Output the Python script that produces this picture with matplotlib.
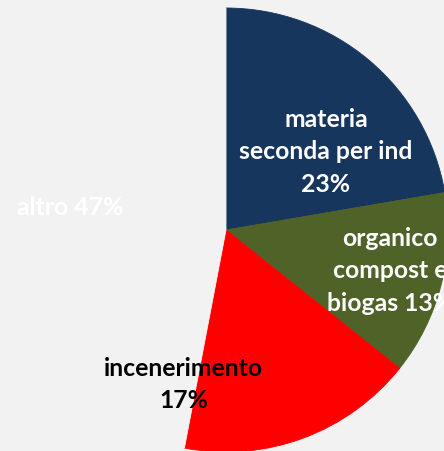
import matplotlib
matplotlib.use('Agg')
import matplotlib.pyplot as plt

# Dati (quota per destinazione)
categorie = ['materia\nseconda per ind\n23%', 'organico\ncompost e\nbiogas 13%',
             'incenerimento\n17%', 'altro 47%']
valori = [22.3, 13.4, 17.3, 47.0]
colori = ['#17365d', '#4f6228', '#ff0000', '#f2f2f2']
colori_testo = ['white', 'white', 'black', 'white']
# posizione etichette (coordinate pie, raggio = 1)
pos_etichette = [(0.45, 0.356), (0.74, -0.18), (-0.19, -0.69), (-0.70, 0.104)]

BG = '#f2f2f2'

fig = plt.figure(figsize=(4.44, 4.52), dpi=100, facecolor=BG)
ax = fig.add_axes([0, 0, 1, 1])
ax.set_facecolor(BG)

wedges, _ = ax.pie(valori, colors=colori, startangle=90, counterclock=False,
                   radius=1.0)
for w, c in zip(wedges, colori):
    w.set_edgecolor(c)
    w.set_linewidth(0.6)

for testo, (x, y), c in zip(categorie, pos_etichette, colori_testo):
    ax.text(x, y, testo, ha='center', va='center', color=c,
            fontsize=17.8, fontweight='bold', family='Lato',
            linespacing=1.48)

# centro a (226, 231) px, raggio 222 px
ax.set_xlim(-226 / 222, (444 - 226) / 222)
ax.set_ylim(-(452 - 231) / 222, 231 / 222)
ax.set_aspect('auto')
ax.axis('off')

fig.savefig('out.png', dpi=100, facecolor=BG)
